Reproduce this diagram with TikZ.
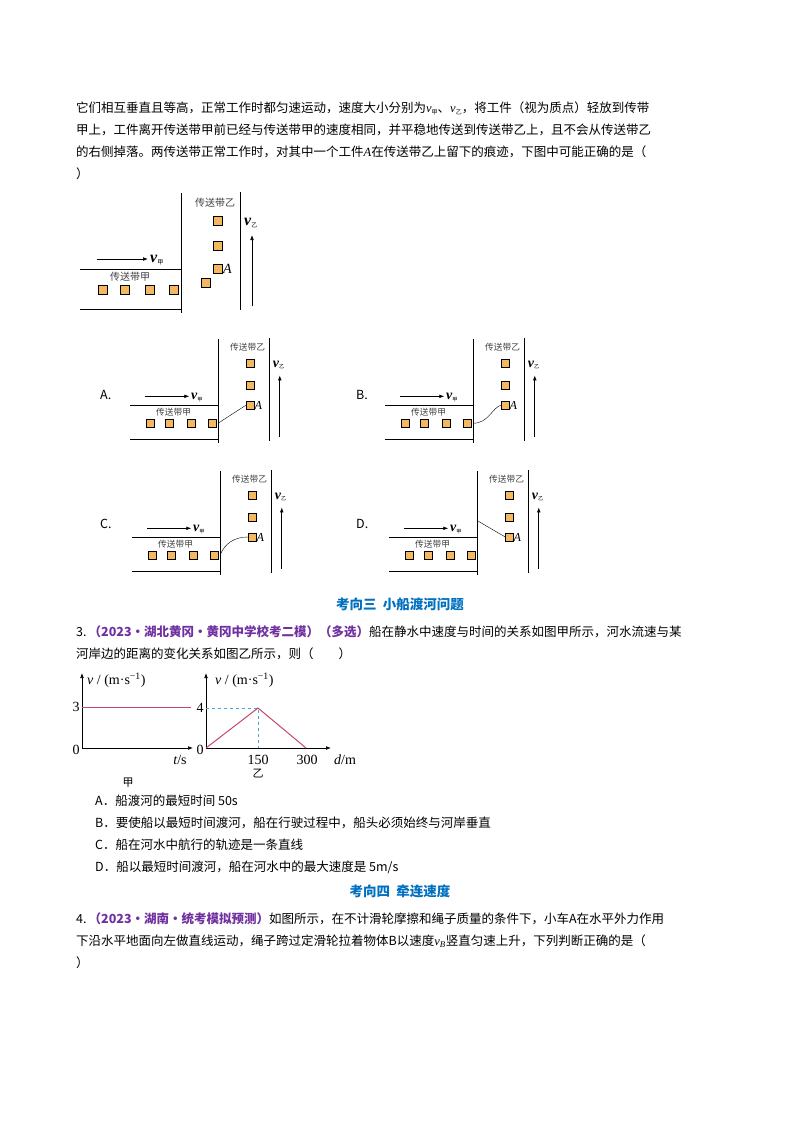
\documentclass[tikz,border=0pt]{standalone}
\usepackage{fontspec}
\setmainfont{Noto Sans CJK SC}
\newfontfamily\ser{Liberation Serif}
\usetikzlibrary{arrows.meta}
\definecolor{box}{RGB}{243,184,96}
\definecolor{hd}{RGB}{0,112,192}
\definecolor{pp}{RGB}{112,48,160}
\definecolor{gl}{RGB}{196,72,110}
\definecolor{cy}{RGB}{60,170,210}
\newcommand\itl[1]{{\ser\itshape #1}}
\newcommand\vsub[1]{{\ser\itshape v}\raisebox{-2pt}{\fontsize{6}{6}\selectfont #1}}
\newcommand\vbsub[1]{{\ser\itshape\bfseries v}\raisebox{-2pt}{\fontsize{6}{6}\selectfont #1}}
\newcommand\bx[2]{\draw[fill=box,line width=0.6pt] (#1-4.5,#2-4.5) rectangle (#1+4.5,#2+4.5);}
\newcommand\beltdiag[5]{%
\begin{scope}[shift={(#1,#2)},scale=#3,every node/.style={transform shape}]
\draw[line width=0.8pt] (-101,0) -- (0,0) (-101,40) -- (0,40) (0,-76) -- (0,44) (59,-77) -- (59,41);
\foreach \u in {-78,-56,-31,-7} {\bx{\u}{21}}
\foreach \w in {-48,-23,0} {\bx{37}{\w}}
\draw[-{Latex[length=5pt]},line width=0.7pt] (-84,-10) -- (-33,-10);
\node[anchor=west,inner sep=0,font=\fontsize{16}{16}\selectfont] at (-31,-9) {\vbsub{甲}};
\draw[-{Latex[length=5pt]},line width=0.7pt] (71,37) -- (71,-34);
\node[anchor=west,inner sep=0,font=\fontsize{16}{16}\selectfont] at (63,-46) {\vbsub{乙}};
\node[font=\fontsize{10}{10}\selectfont,text=black!75] at (34,-66) {传送带乙};
\node[font=\fontsize{10}{10}\selectfont,text=black!75] at (-51,8) {传送带甲};
\node[anchor=west,inner sep=0,font=\fontsize{14}{14}\selectfont] at (42,0) {\itl{A}};
#4
\end{scope}}
\begin{document}
\begin{tikzpicture}[x=1pt,y=-1pt,font=\fontsize{12.5}{14}\selectfont]
\useasboundingbox (0,0) rectangle (800,1132);
\fill[white] (0,0) rectangle (800,1132);
\tikzset{t/.style={anchor=west,inner sep=0},g/.style={font={\ser\fontsize{14}{14}\selectfont}}}
\node[t] at (76,108) {它们相互垂直且等高，正常工作时都匀速运动，速度大小分别为\vsub{甲}、\vsub{乙}，将工件（视为质点）轻放到传带};
\node[t] at (76,130) {甲上，工件离开传送带甲前已经与传送带甲的速度相同，并平稳地传送到传送带乙上，且不会从传送带乙};
\node[t] at (76,152) {的右侧掉落。两传送带正常工作时，对其中一个工件\itl{A}在传送带乙上留下的痕迹，下图中可能正确的是（};
\node[t] at (76,174) {）};
\beltdiag{181}{269}{1}{\bx{25}{14}}{}
\node[t] at (100,395) {A.}; \node[t] at (356,395) {B.};
\node[t] at (100,524) {C.}; \node[t] at (356,524) {D.};
\beltdiag{218}{405}{0.87}{\draw (0,21) -- (32.5,0);}{}
\beltdiag{473}{405}{0.87}{\draw (0,21) .. controls (18,21) and (22,3) .. (32.5,0);}{}
\beltdiag{220}{537}{0.87}{\draw (0,21) .. controls (6,6) and (18,0) .. (32.5,0);}{}
\beltdiag{477}{537}{0.87}{\draw (0,-19) -- (32.5,0);}{}
\node[text=hd,font=\fontsize{13.5}{14}\bfseries\selectfont] at (400,604) {考向三\ \ 小船渡河问题};
\node[t] at (76,632) {3.\,{\color{pp}\bfseries（2023·湖北黄冈·黄冈中学校考二模）（多选）}船在静水中速度与时间的关系如图甲所示，河水流速与某};
\node[t] at (76,654) {河岸边的距离的变化关系如图乙所示，则（\qquad）};
% graph jia
\draw[-{Latex[length=5pt]},line width=0.7pt] (82,748) -- (82,673);
\draw[-{Latex[length=5pt]},line width=0.7pt] (82,748) -- (193,748);
\draw[gl,line width=1pt] (82,707) -- (191,707);
\node[t,g] at (87,680) {\itl{v} / (m·s\textsuperscript{−1})};
\node[g] at (76,707) {3};
\node[g] at (76,750) {0};
\node[g] at (180,760) {\itl{t}/s};
\node[font=\fontsize{11}{11}\selectfont] at (128,783) {甲};
% graph yi
\draw[-{Latex[length=5pt]},line width=0.7pt] (206,748) -- (206,673);
\draw[-{Latex[length=5pt]},line width=0.7pt] (206,748) -- (331,748);
\draw[cy,dashed,line width=0.7pt] (206,708) -- (258,708) -- (258,748);
\draw[gl,line width=1pt] (206,748) -- (258,708) -- (306,748);
\node[t,g] at (215,680) {\itl{v} / (m·s\textsuperscript{−1})};
\node[g] at (200,708) {4};
\node[g] at (200,750) {0};
\node[g] at (258,760) {150};
\node[g] at (307,760) {300};
\node[g] at (345,760) {\itl{d}/m};
\node[font=\fontsize{11}{11}\selectfont] at (258,774) {乙};
\node[t] at (95,801) {A．船渡河的最短时间 50s};
\node[t] at (95,823) {B．要使船以最短时间渡河，船在行驶过程中，船头必须始终与河岸垂直};
\node[t] at (95,845) {C．船在河水中航行的轨迹是一条直线};
\node[t] at (95,867) {D．船以最短时间渡河，船在河水中的最大速度是 5m/s};
\node[text=hd,font=\fontsize{13.5}{14}\bfseries\selectfont] at (400,891) {考向四\ \ 牵连速度};
\node[t] at (76,919) {4.\,{\color{pp}\bfseries（2023·湖南·统考模拟预测）}如图所示，在不计滑轮摩擦和绳子质量的条件下，小车A在水平外力作用};
\node[t] at (76,941) {下沿水平地面向左做直线运动，绳子跨过定滑轮拉着物体B以速度{\ser\itshape v\textsubscript{B}}竖直匀速上升，下列判断正确的是（};
\node[t] at (76,963) {）};
\end{tikzpicture}
\end{document}
